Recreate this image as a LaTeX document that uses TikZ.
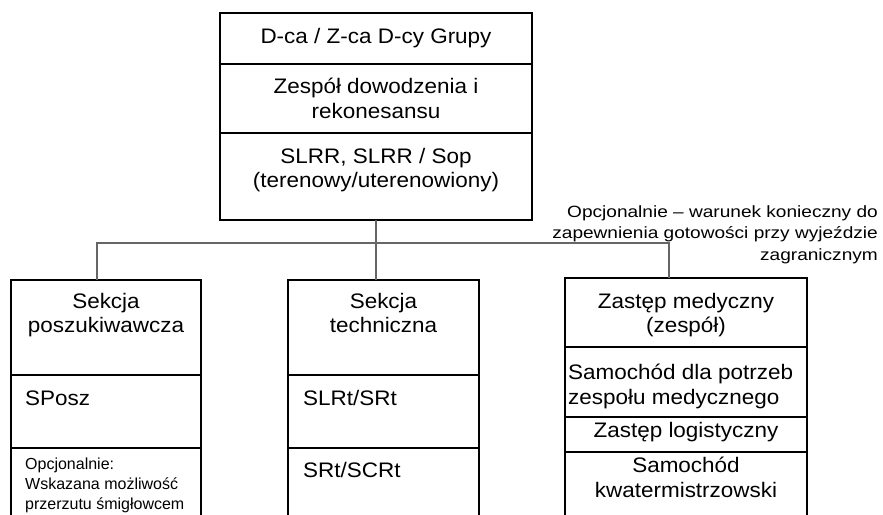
\documentclass[tikz,border=0pt]{standalone}
\usepackage{fontspec}
\setmainfont[FakeStretch=1.07]{Liberation Sans}
\newfontfamily\widefont[FakeStretch=1.17]{Liberation Sans}
\newfontfamily\plainfont{Liberation Sans}
\usetikzlibrary{positioning}
\newcommand\bigtxt{\fontsize{21}{24.5}\selectfont}
\newcommand\midtxt{\widefont\fontsize{16.3}{21.5}\selectfont}
\newcommand\smalltxt{\plainfont\fontsize{16}{20}\selectfont}

\begin{document}
\begin{tikzpicture}[x=1pt,y=-1pt,
	cell/.style={draw, line width=1.5pt, anchor=north west, inner sep=0pt, outer sep=0pt},
	txt/.style={font=\bigtxt, align=center, inner sep=0pt},
	link/.style={draw=black!60, line width=1.2pt}]
\useasboundingbox (0,0) rectangle (883,514);
\clip (0,0) rectangle (883,514);

% dowodzenie
\node[cell, minimum width=312pt, minimum height=51pt] (dca) at (220,13) {};
\node[cell, minimum width=312pt, minimum height=69pt, below=0pt of dca] (zesp) {};
\node[cell, minimum width=312pt, minimum height=87pt, below=0pt of zesp] (slrr) {};
\node[txt, below=15pt of dca.north] (dcaT) {D-ca / Z-ca D-cy Grupy};
\node[txt, below=14pt of zesp.north] (zespT) {Zespół dowodzenia i\\rekonesansu};
\node[txt, below=15pt of slrr.north] (slrrT) {SLRR, SLRR / Sop\\(terenowy/uterenowiony)};

% sekcja poszukiwawcza
\node[cell, minimum width=190pt, minimum height=95pt] (posz) at (11,280) {};
\node[cell, minimum width=190pt, minimum height=73pt, below=0pt of posz] (sposz) {};
\node[cell, minimum width=190pt, minimum height=90pt, below=0pt of sposz] (heli) {};
\node[txt, below=13pt of posz.north] (poszT) {Sekcja\\poszukiwawcza};
\node[txt, anchor=north west] (sposzT) at ([xshift=14pt,yshift=-16pt]sposz.north west) {SPosz};
\node[txt, font=\smalltxt, align=left, anchor=north west] (heliT) at ([xshift=14pt,yshift=-10pt]heli.north west) {Opcjonalnie:\\Wskazana możliwość\\przerzutu śmigłowcem};

% sekcja techniczna
\node[cell, minimum width=191pt, minimum height=95pt] (tech) at (288,280) {};
\node[cell, minimum width=191pt, minimum height=73pt, below=0pt of tech] (slrt) {};
\node[cell, minimum width=191pt, minimum height=90pt, below=0pt of slrt] (srt) {};
\node[txt, below=13pt of tech.north] (techT) {Sekcja\\techniczna};
\node[txt, anchor=north west] (slrtT) at ([xshift=15pt,yshift=-15pt]slrt.north west) {SLRt/SRt};
\node[txt, anchor=north west] (srtT) at ([xshift=15pt,yshift=-14pt]srt.north west) {SRt/SCRt};

% zastepy
\node[cell, minimum width=242pt, minimum height=69pt] (med) at (565,278) {};
\node[cell, minimum width=242pt, minimum height=70pt, below=0pt of med] (samed) {};
\node[cell, minimum width=242pt, minimum height=35pt, below=0pt of samed] (logi) {};
\node[cell, minimum width=242pt, minimum height=90pt, below=0pt of logi] (kwat) {};
\node[txt, below=15pt of med.north] (medT) {Zastęp medyczny\\(zespół)};
\node[txt, align=left, anchor=north west] (samedT) at ([xshift=3pt,yshift=-17pt]samed.north west) {Samochód dla potrzeb\\zespołu medycznego};
\node[txt, below=5pt of logi.north] (logiT) {Zastęp logistyczny};
\node[txt, below=5pt of kwat.north] (kwatT) {Samochód\\kwatermistrzowski};

\node[txt, font=\midtxt, align=right, anchor=north east] (opcja) at (878,205) {Opcjonalnie – warunek konieczny do\\zapewnienia gotowości przy wyjeździe\\zagranicznym};

% polaczenia
\coordinate (bus) at ([yshift=-23pt]slrr.south);
\coordinate (busL) at ([xshift=-9pt]posz.north |- bus);
\coordinate (busR) at ([xshift=-17pt]med.north |- bus);
\draw[link] (slrr.south) -- (bus);
\draw[link] ([xshift=-9pt]posz.north) -- (busL) -- (busR) -- ([xshift=-17pt]med.north);
\draw[link] (bus) -- (tech.north -| bus);
\end{tikzpicture}
\end{document}
